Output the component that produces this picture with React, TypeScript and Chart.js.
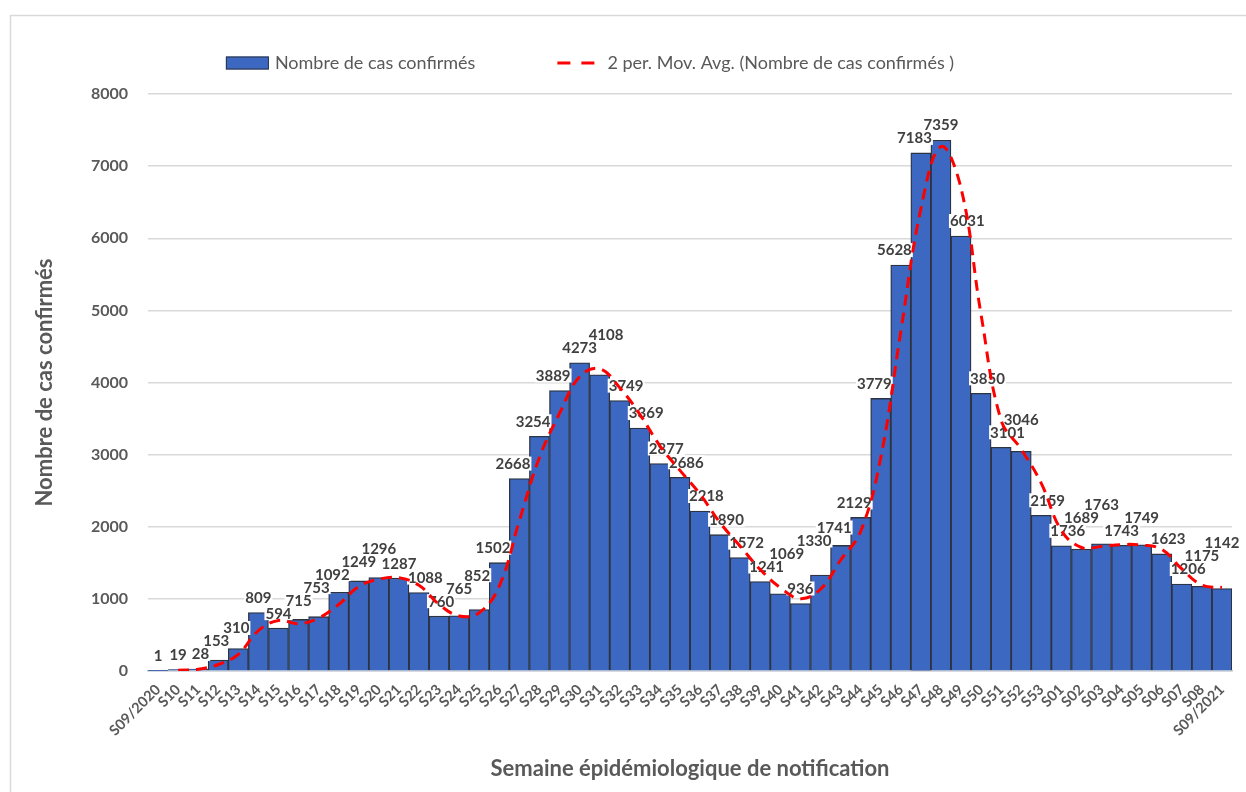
import React, { useEffect, useRef } from 'react';
import { Chart, registerables } from 'chart.js';

Chart.register(...registerables);

const weeks = [
  'S09/2020', 'S10', 'S11', 'S12', 'S13', 'S14', 'S15', 'S16', 'S17', 'S18', 'S19', 'S20',
  'S21', 'S22', 'S23', 'S24', 'S25', 'S26', 'S27', 'S28', 'S29', 'S30', 'S31', 'S32',
  'S33', 'S34', 'S35', 'S36', 'S37', 'S38', 'S39', 'S40', 'S41', 'S42', 'S43', 'S44',
  'S45', 'S46', 'S47', 'S48', 'S49', 'S50', 'S51', 'S52', 'S53', 'S01', 'S02', 'S03',
  'S04', 'S05', 'S06', 'S07', 'S08', 'S09/2021',
];

const cases = [
  1, 19, 28, 153, 310, 809, 594, 715, 753, 1092, 1249, 1296,
  1287, 1088, 760, 765, 852, 1502, 2668, 3254, 3889, 4273, 4108, 3749,
  3369, 2877, 2686, 2218, 1890, 1572, 1241, 1069, 936, 1330, 1741, 2129,
  3779, 5628, 7183, 7359, 6031, 3850, 3101, 3046, 2159, 1736, 1689, 1763,
  1743, 1749, 1623, 1206, 1175, 1142,
];

// 2-period moving average of the weekly counts (as in the Excel trendline)
const movingAvg = [
  null, 10, 23.5, 90.5, 231.5, 559.5, 701.5, 654.5, 734, 922.5, 1170.5, 1272.5,
  1291.5, 1187.5, 924, 762.5, 808.5, 1177, 2085, 2961, 3571.5, 4081, 4190.5, 3928.5,
  3559, 3123, 2781.5, 2452, 2054, 1731, 1406.5, 1155, 1002.5, 1133, 1535.5, 1935,
  2954, 4703.5, 6405.5, 7271, 6695, 4940.5, 3475.5, 3073.5, 2602.5, 1947.5, 1712.5, 1726,
  1753, 1746, 1686, 1414.5, 1190.5, 1158.5,
];

const yTicks = [0, 1000, 2000, 3000, 4000, 5000, 6000, 7000, 8000];

const barLabel = 'Nombre de cas confirmés';
const lineLabel = '2 per. Mov. Avg. (Nombre de cas confirmés )';
const yTitle = 'Nombre de cas confirmés';
const xTitle = 'Semaine épidémiologique de notification';

const BAR_FILL = '#3d68c1';
const BAR_BORDER = '#2c3341';
const LINE_COLOR = '#ff0000';
const AXIS_TEXT = '#595959';
const LABEL_TEXT = '#404040';
const FONT = 'Lato, "Open Sans", sans-serif';
const BAR_DATASET = 1;

const framePlugin = {
  id: 'frame',
  beforeDraw(chart: any) {
    const { ctx, width, height } = chart;
    ctx.save();
    ctx.fillStyle = '#ffffff';
    ctx.fillRect(0, 0, width, height);
    ctx.strokeStyle = '#d9d9d9';
    ctx.lineWidth = 1.5;
    ctx.strokeRect(10.5, 15.5, width + 20, height + 20);
    ctx.restore();
  },
};

const dataLabelPlugin = {
  id: 'barValueLabels',
  afterDatasetDraw(chart: any, args: any) {
    if (args.index !== BAR_DATASET) return;
    const { ctx } = chart;
    const meta = chart.getDatasetMeta(BAR_DATASET);
    const els = meta.data as any[];
    ctx.save();
    ctx.font = `bold 15px ${FONT}`;
    ctx.textAlign = 'center';
    ctx.textBaseline = 'bottom';
    const h = 16;
    const gap = 8;
    const tol = 3;
    const placed: { l: number; r: number; t: number; b: number }[] = [];
    const boxes: { x: number; y: number; w: number; txt: string }[] = [];
    els.forEach((el: any, i: number) => {
      const txt = String(cases[i]);
      const w = ctx.measureText(txt).width + 2;
      const half = el.width / 2;
      const base = el.y - gap;
      const prev = els[i - 1];
      const next = els[i + 1];
      const prevTall = prev && prev.y < base;
      const nextTall = next && next.y < base;
      let cx = el.x;
      if (nextTall && !prevTall) cx = el.x + half - w / 2 + 2;
      else if (prevTall && !nextTall) cx = el.x - half + w / 2 - 2;
      let bottom = base;
      for (let k = 0; k < 4; k++) {
        const cand = { l: cx - w / 2, r: cx + w / 2, t: bottom - h, b: bottom };
        const hit = placed.find(
          (p) => cand.l < p.r - 1 && cand.r > p.l + 1 && cand.t < p.b - tol && cand.b > p.t + tol,
        );
        if (!hit) break;
        bottom = hit.t + tol;
      }
      placed.push({ l: cx - w / 2, r: cx + w / 2, t: bottom - h, b: bottom });
      boxes.push({ x: cx, y: bottom, w, txt });
    });
    boxes.forEach((b) => {
      ctx.fillStyle = '#ffffff';
      ctx.fillRect(b.x - b.w / 2, b.y - h + 2, b.w, h - 2);
    });
    boxes.forEach((b) => {
      ctx.fillStyle = LABEL_TEXT;
      ctx.fillText(b.txt, b.x, b.y + 1);
    });
    ctx.restore();
  },
};

const legendPlugin = {
  id: 'topLegend',
  afterDraw(chart: any) {
    const { ctx } = chart;
    ctx.save();
    ctx.font = `18px ${FONT}`;
    const w1 = ctx.measureText(barLabel).width;
    const w2 = ctx.measureText(lineLabel).width;
    const boxW = 43;
    const lineW = 37;
    const gapIcon = 6;
    const gapItems = 82;
    const total = boxW + gapIcon + w1 + gapItems + lineW + 13 + w2;
    let x = 590 - total / 2;
    const cy = 63;
    ctx.fillStyle = BAR_FILL;
    ctx.fillRect(x, cy - 6.5, boxW, 13);
    ctx.strokeStyle = BAR_BORDER;
    ctx.lineWidth = 1;
    ctx.strokeRect(x + 0.5, cy - 6, boxW - 1, 12);
    x += boxW + gapIcon;
    ctx.fillStyle = AXIS_TEXT;
    ctx.textBaseline = 'middle';
    ctx.textAlign = 'left';
    ctx.fillText(barLabel, x, cy);
    x += w1 + gapItems;
    ctx.strokeStyle = LINE_COLOR;
    ctx.lineWidth = 3;
    ctx.setLineDash([13, 11]);
    ctx.beginPath();
    ctx.moveTo(x, cy);
    ctx.lineTo(x + lineW, cy);
    ctx.stroke();
    ctx.setLineDash([]);
    x += lineW + 13;
    ctx.fillText(lineLabel, x, cy);
    ctx.restore();
  },
};

export default function App() {
  const ref = useRef<HTMLCanvasElement>(null);

  useEffect(() => {
    if (!ref.current) return;
    const chart = new Chart(ref.current, {
      type: 'bar',
      data: {
        labels: weeks,
        datasets: [
          {
            type: 'line',
            label: lineLabel,
            data: movingAvg as any,
            borderColor: LINE_COLOR,
            borderWidth: 3,
            borderDash: [11, 7],
            pointRadius: 0,
            tension: 0.4,
            fill: false,
            order: 0,
          } as any,
          {
            type: 'bar',
            label: barLabel,
            data: cases,
            backgroundColor: BAR_FILL,
            borderColor: BAR_BORDER,
            borderWidth: 1.3,
            categoryPercentage: 1,
            barPercentage: 1,
            order: 1,
          } as any,
        ],
      },
      options: {
        animation: false,
        responsive: true,
        maintainAspectRatio: false,
        layout: { padding: { left: 20, right: 14, top: 94, bottom: 8 } },
        plugins: {
          legend: { display: false },
          tooltip: { enabled: false },
        },
        scales: {
          x: {
            grid: { display: false },
            border: { display: true, color: '#bcc6d8', width: 1.5 },
            ticks: {
              autoSkip: false,
              minRotation: 45,
              maxRotation: 45,
              color: AXIS_TEXT,
              font: { family: FONT, size: 14.5, weight: 'bold' },
              padding: 2,
            },
            title: {
              display: true,
              text: xTitle,
              color: AXIS_TEXT,
              font: { family: FONT, size: 22, weight: 'bold' },
              padding: { top: 0, bottom: 2 },
            },
            afterFit(scale: any) {
              scale.height = 113;
            },
          },
          y: {
            min: 0,
            max: 8000,
            afterBuildTicks(scale: any) {
              scale.ticks = yTicks.map((v) => ({ value: v }));
            },
            grid: { color: '#d9d9d9', lineWidth: 1.5, drawTicks: false },
            border: { display: false },
            ticks: {
              color: AXIS_TEXT,
              padding: 20,
              font: { family: FONT, size: 16, weight: 'bold' },
              callback: (v: any) => String(v),
            },
            title: {
              display: true,
              text: yTitle,
              color: AXIS_TEXT,
              font: { family: FONT, size: 22, weight: 'bold' },
              padding: { top: 12, bottom: 0 },
            },
            afterFit(scale: any) {
              scale.width = 128;
            },
          },
        },
      },
      plugins: [framePlugin, dataLabelPlugin, legendPlugin],
    });
    return () => chart.destroy();
  }, []);

  return (
    <div style={{ position: 'fixed', left: 0, top: 0, width: 1246, height: 792, background: '#fff' }}>
      <canvas ref={ref} />
    </div>
  );
}
